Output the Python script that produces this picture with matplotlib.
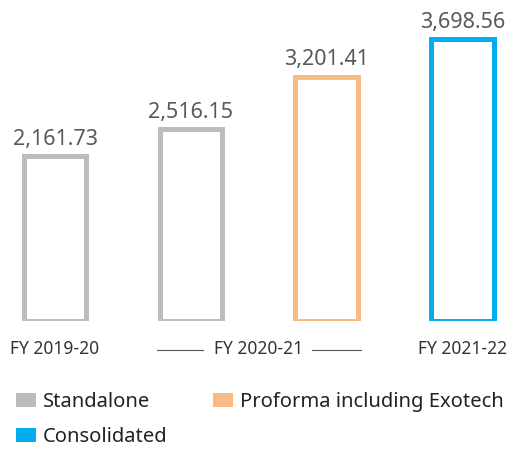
import matplotlib
matplotlib.use("Agg")
import matplotlib.pyplot as plt
from matplotlib.patches import Patch

plt.rcParams['font.family'] = ['Noto Sans', 'DejaVu Sans']

# data
years = ['FY 2019-20', 'FY 2020-21', 'FY 2021-22']
year_pos = [0, 1.5, 3]
series = ['Standalone', 'Standalone', 'Proforma including Exotech', 'Consolidated']
values = [2161.73, 2516.15, 3201.41, 3698.56]
colors = {'Standalone': '#BBBCBE', 'Proforma including Exotech': '#F9BB85', 'Consolidated': '#00AEEF'}

W, H = 518, 451
fig = plt.figure(figsize=(W / 100, H / 100), dpi=100)
# axes placed so the bars line up with the reference
ax = fig.add_axes([0, 130 / H, 1, 321 / H])
ax.set_xlim(-55 / 135.8, (W - 55) / 135.8)
ax.set_ylim(0, 321 / 0.0763)
ax.axis('off')

bar_w = 0.46
for i, (v, s) in enumerate(zip(values, series)):
    ax.bar(i, v, width=bar_w, facecolor='none', edgecolor=colors[s], linewidth=3.6)
    ax.annotate(f'{v:,.2f}', (i, v), xytext=(0, 4.5), textcoords='offset points',
                ha='center', va='bottom', fontsize=15.5, color='#595959')

# category labels
for pos, yr in zip(year_pos, years):
    ax.annotate(yr, (pos, 0), xytext=(0, -20.5), textcoords='offset points',
                ha='center', va='center', fontsize=12.5, color='#333333',
                annotation_clip=False)

# little rules either side of the shared FY 2020-21 label
rule_y = -29 / 0.0763
ax.plot([1 - bar_w / 2 - 0.02, 1.09], [rule_y, rule_y], color='#555555',
        lw=0.8, clip_on=False)
ax.plot([1.89, 2 + bar_w / 2 + 0.02], [rule_y, rule_y], color='#555555',
        lw=0.8, clip_on=False)

handles = [Patch(facecolor=colors['Standalone'], edgecolor='none', label='Standalone'),
           Patch(facecolor=colors['Consolidated'], edgecolor='none', label='Consolidated'),
           Patch(facecolor=colors['Proforma including Exotech'], edgecolor='none',
                 label='Proforma including Exotech')]
fig.legend(handles=handles, loc='upper left', bbox_to_anchor=(16 / W, 1 - 392 / H),
           ncol=2, frameon=False, fontsize=14.5, handlelength=1.0, handleheight=0.75,
           handletextpad=0.35, columnspacing=2.25, labelspacing=0.75,
           labelcolor='#222222', borderaxespad=0, borderpad=0)

fig.savefig('out.png', dpi=100)
